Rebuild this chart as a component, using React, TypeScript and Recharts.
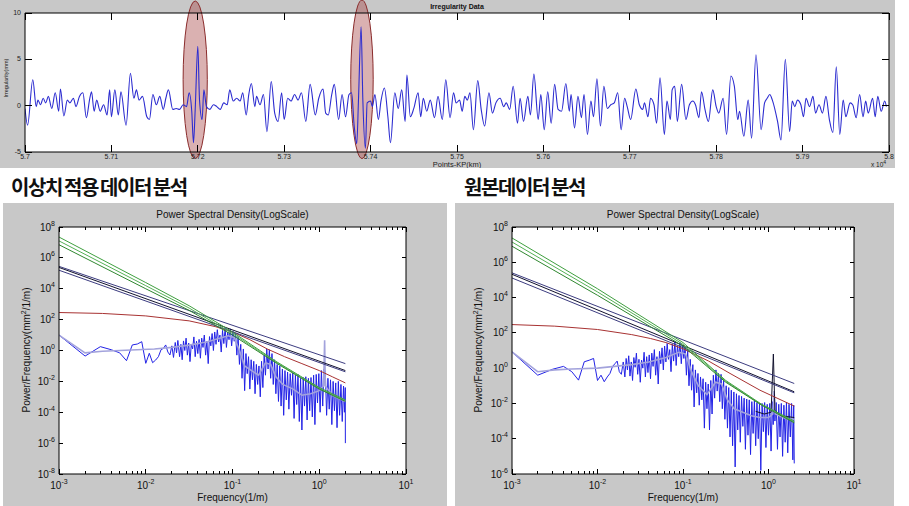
import React from 'react';
import { LineChart, Line, XAxis, YAxis, ReferenceArea } from 'recharts';

const FONT = '"Liberation Sans", Arial, Helvetica, sans-serif';
const KFONT = '"Noto Sans CJK KR", "Noto Sans", sans-serif';
const GRAY = '#c8c8c8';

// ---------- Top chart: irregularity trace ----------
const irregularityTrace: [number, number][] = [
  [57000,-0.3],[57003,-2.1],[57009,2.8],[57013,-0.1],[57015,0.6],[57018,0.1],[57021,0.8],[57024,0.3],[57027,1.0],[57031,-0.3],[57035,1.4],[57039,-0.6],[57041,1.8],[57045,-1.1],[57049,0.6],[57052,0.3],[57056,0.8],[57059,-0.1],[57063,1.0],[57067,1.4],[57071,-1.3],[57075,0.8],[57077,1.5],[57080,-0.6],[57083,0.6],[57087,-0.6],[57091,0.1],[57095,-1.0],[57098,1.7],[57100,-1.2],[57104,1.7],[57108,-1.0],[57111,1.5],[57117,-2.1],[57122,3.5],[57126,0.8],[57129,1.7],[57132,0.6],[57136,1.0],[57141,-1.2],[57144,-1.5],[57148,1.2],[57152,0.1],[57156,1.0],[57160,-0.4],[57163,0.8],[57166,1.7],[57171,-0.4],[57175,-0.3],[57179,-0.4],[57183,0.1],[57187,-0.1],[57190,1.4],[57193,-0.6],[57195,-4.0],[57197,-0.4],[57200,6.4],[57202,0.6],[57205,-1.5],[57207,1.7],[57210,-0.1],[57214,-0.4],[57218,0.1],[57222,-0.1],[57226,-0.4],[57230,0.3],[57234,0.1],[57237,1.7],[57241,0.5],[57245,0.8],[57249,0.5],
  [57252,1.4],[57256,-1.0],[57259,1.2],[57262,2.4],[57266,-0.1],[57268,1.0],[57272,0.1],[57276,1.2],[57280,-2.8],[57285,2.6],[57289,-0.8],[57293,-1.7],[57297,1.4],[57300,-1.5],[57304,0.8],[57308,0.5],[57312,1.2],[57316,0.6],[57320,1.4],[57325,-1.7],[57330,2.3],[57336,-1.0],[57340,0.8],[57345,1.8],[57348,-0.8],[57351,-1.0],[57355,1.2],[57358,2.3],[57363,-1.5],[57367,1.2],[57371,-1.2],[57375,1.2],[57378,1.4],[57381,-2.2],[57384,-4.1],[57386,0.7],[57389,8.5],[57391,0.7],[57394,-4.6],[57396,0.3],[57400,0.5],[57402,-0.1],[57405,1.2],[57409,-1.5],[57412,0.5],[57416,1.9],[57420,-1.2],[57423,-4.0],[57428,1.4],[57432,-0.3],[57436,1.7],[57440,-1.7],[57442,3.3],[57446,-1.2],[57450,-0.3],[57455,1.4],[57458,-1.2],[57461,0.8],[57465,-0.6],[57469,0.6],[57474,-1.3],[57478,1.0],[57483,-1.5],[57487,2.8],[57492,-1.3],[57496,1.4],
  [57499,0.3],[57503,0.6],[57506,-0.6],[57509,1.0],[57512,0.6],[57515,1.4],[57519,-2.6],[57524,2.7],[57528,-0.4],[57532,-2.2],[57537,1.4],[57541,-0.8],[57545,0.3],[57550,0.8],[57554,-0.1],[57557,0.3],[57561,-0.4],[57565,2.1],[57570,-1.9],[57573,0.8],[57577,-1.7],[57582,1.0],[57585,-1.0],[57589,3.4],[57594,-1.5],[57597,1.2],[57601,-2.6],[57605,1.5],[57609,-1.9],[57613,2.3],[57617,-0.4],[57621,-0.6],[57626,2.4],[57630,-0.6],[57632,1.2],[57636,-2.4],[57640,1.0],[57644,-1.3],[57647,1.2],[57651,-3.1],[57655,0.5],[57658,-1.2],[57662,2.9],[57666,-2.2],[57670,2.1],[57674,-0.3],[57678,0.1],[57682,0.3],[57686,1.4],[57690,-2.6],[57694,0.8],[57697,-0.1],[57701,-1.5],[57707,1.8],[57711,0.1],[57715,-0.4],[57717,0.3],[57721,-1.2],[57724,0.8],[57728,0.1],[57731,-1.9],[57735,3.0],[57740,-3.1],[57743,0.5],[57747,-1.5],
  [57749,1.7],[57752,2.1],[57755,-1.7],[57760,2.3],[57765,-1.5],[57769,0.1],[57773,0.5],[57776,0.1],[57780,-1.3],[57783,1.5],[57787,-0.4],[57791,-1.7],[57796,1.7],[57800,-0.1],[57803,-0.8],[57808,0.8],[57812,-3.1],[57817,3.2],[57821,2.1],[57825,-1.5],[57827,-0.6],[57832,-3.3],[57837,0.6],[57841,-3.5],[57846,5.5],[57852,-2.6],[57856,0.3],[57859,0.8],[57862,1.2],[57865,0.6],[57871,-1.7],[57875,-3.7],[57880,5.0],[57885,-2.8],[57888,0.5],[57891,-0.1],[57894,0.6],[57898,0.1],[57901,-1.2],[57904,0.8],[57908,-0.1],[57912,1.0],[57915,-0.8],[57919,0.1],[57923,-0.8],[57927,1.0],[57931,-1.5],[57935,-2.9],[57939,4.2],[57943,-3.1],[57947,0.6],[57950,-1.2],[57955,0.3],[57958,0.1],[57962,-1.3],[57966,1.2],[57970,-1.2],[57973,0.5],[57976,-0.8],[57981,0.8],[57984,-1.2],[57987,1.0],[57991,-0.6],[57995,0.5],[57997,-0.1],
];
const kpTicks = [57000, 57100, 57200, 57300, 57400, 57500, 57600, 57700, 57800, 57900, 58000];
const kpTickLabels = ['5.7', '5.71', '5.72', '5.73', '5.74', '5.75', '5.76', '5.77', '5.78', '5.79', '5.8'];
const irrTicks = [-5, 0, 5, 10];
const outlierZones = [
  { from: 57183, to: 57211, low: -5.7, high: 11.3 },
  { from: 57377, to: 57403, low: -5.7, high: 11.4 },
];

// ---------- PSD charts (log10 frequency, log10 power) ----------
const freqDecades = [-3, -2, -1, 0, 1];
const minorSteps = [2, 3, 4, 5, 6, 7, 8, 9];
const leftPowerTicks = [-8, -6, -4, -2, 0, 2, 4, 6, 8];
const rightPowerTicks = [-6, -4, -2, 0, 2, 4, 6, 8];

const leftPsd: [number, number][] = [
  [-3.000,1.00],[-2.699,-0.36],[-2.523,0.25],[-2.398,0.05],[-2.301,-0.15],[-2.222,-0.66],[-2.155,0.36],[-2.097,0.42],[-2.046,0.57],[-2.000,-0.83],[-1.959,-0.18],[-1.921,-0.79],[-1.886,-0.62],[-1.854,-0.40],[-1.824,0.05],[-1.796,0.14],[-1.770,0.36],[-1.745,-0.10],[-1.721,-0.29],[-1.699,0.30],
  [-1.68,-0.45],[-1.66,0.52],[-1.645,-0.15],[-1.63,0.65],[-1.61,-0.40],[-1.595,0.40],[-1.58,-0.60],[-1.565,0.62],[-1.55,0.00],[-1.535,0.80],[-1.52,-0.30],[-1.505,0.48],[-1.49,-0.72],[-1.475,0.40],[-1.46,0.10],[-1.445,0.88],[-1.43,-0.40],[-1.415,0.60],[-1.40,-0.20],[-1.385,0.72],[-1.37,-0.50],[-1.355,0.80],[-1.34,0.20],[-1.325,1.00],[-1.31,-0.30],[-1.295,0.60],[-1.28,-0.85],[-1.265,0.90],[-1.25,0.30],[-1.235,1.10],[-1.22,0.00],[-1.205,1.20],[-1.19,0.40],[-1.175,1.35],[-1.16,0.55],[-1.145,1.00],[-1.13,-0.10],[-1.115,1.30],[-1.10,0.45],[-1.085,1.45],[-1.07,0.20],[-1.055,1.20],[-1.04,0.70],[-1.025,1.40],[-1.01,0.30],[-0.995,1.25],[-0.98,0.60],[-0.965,1.10],[-0.95,-0.30],[-0.935,0.90],[-0.92,-0.90],[-0.905,0.40],[-0.89,-1.80],[-0.875,0.10],[-0.86,-2.60],[-0.845,-0.20],[-0.83,-1.50],[-0.815,-0.40],[-0.80,-2.50],[-0.785,-0.60],[-0.77,-1.90],[-0.755,-0.70],[-0.74,-2.80],[-0.725,-0.90],[-0.71,-2.20],[-0.695,-1.00],[-0.68,-3.00],[-0.665,-0.70],[-0.65,-2.40],[-0.635,-0.30],[-0.62,-1.60],[-0.605,0.10],[-0.59,-1.20],[-0.575,0.05],[-0.56,-1.80],[-0.545,-0.20],[-0.53,-2.20],[-0.515,-0.60],[-0.50,-2.80],[-0.485,-0.90],[-0.47,-3.30],[-0.455,-1.00],[-0.44,-3.60],[-0.425,-1.20],[-0.41,-4.20],[-0.395,-1.30],[-0.38,-3.20],[-0.365,-1.40],[-0.35,-3.80],[-0.335,-1.50],[-0.32,-2.90],[-0.305,-1.45],[-0.29,-4.40],[-0.275,-1.60],[-0.26,-3.50],[-0.245,-1.55],[-0.23,-4.60],[-0.215,-1.80],[-0.20,-5.15],[-0.185,-1.75],[-0.17,-3.60],[-0.155,-1.70],[-0.14,-4.50],[-0.125,-1.80],[-0.11,-3.90],[-0.095,-1.75],[-0.08,-4.30],[-0.065,-1.60],[-0.05,-4.80],[-0.035,-1.55],[-0.02,-3.40],[-0.005,-1.50],[0.01,-4.00],[0.025,-1.30],[0.04,-3.60],[0.055,-1.20],[0.07,-1.40],[0.085,-4.20],[0.10,-1.80],[0.115,-3.80],[0.13,-1.90],[0.145,-4.80],[0.16,-2.00],[0.175,-3.90],[0.19,-2.10],[0.205,-5.00],[0.22,-2.00],[0.235,-4.20],[0.25,-2.20],[0.265,-4.60],[0.28,-2.30],[0.29,-4.00],[0.30,-2.40],[0.301,-6.00],
];
const leftPsdSmooth: [number, number][] = [
  [-3,1.0],[-2.7,-0.15],[-2.5,-0.05],[-2.3,0.0],[-2.1,0.05],[-1.9,0.1],[-1.7,0.2],[-1.5,0.35],[-1.3,0.55],[-1.15,0.8],[-1.05,0.95],[-0.98,0.85],[-0.92,0.0],[-0.86,-1.0],[-0.78,-1.3],[-0.7,-1.6],[-0.62,-0.8],[-0.56,-0.9],[-0.5,-1.7],[-0.42,-2.2],[-0.3,-2.5],[-0.2,-2.9],[-0.1,-2.8],[0.0,-2.6],[0.05,-2.3],[0.062,0.67],[0.07,-2.3],[0.15,-2.9],[0.301,-3.3],
];
const leftRed: [number, number][] = [
  [-3,2.46],[-2.5,2.4],[-2,2.24],[-1.5,1.92],[-1.2,1.55],[-1,1.2],[-0.8,0.7],[-0.6,0.1],[-0.4,-0.4],[-0.2,-0.85],[0,-1.3],[0.15,-1.7],[0.301,-2.1],
];
const leftNavyA: [number, number][] = [[-3,5.45],[0.301,-0.85]];
const leftBlack: [number, number][] = [[-3,5.38],[0.301,-1.3]];
const leftNavyB: [number, number][] = [[-3,5.2],[0.301,-1.38]];
const leftGreenA: [number, number][] = [[-3,7.35],[-2,4.4],[-1.5,2.9],[-1,1.2],[-0.5,-0.7],[0,-2.4],[0.301,-3.2]];
const leftGreenB: [number, number][] = [[-3,7.1],[-2,4.2],[-1.5,2.75],[-1,1.1],[-0.5,-0.75],[0,-2.45],[0.301,-3.25]];
const leftGreenC: [number, number][] = [[-3,6.85],[-2,4.0],[-1.5,2.6],[-1,1.0],[-0.5,-0.8],[0,-2.5],[0.301,-3.3]];

const rightPsd: [number, number][] = [
  [-3.000,0.92],[-2.699,-0.40],[-2.523,-0.06],[-2.398,0.10],[-2.301,-0.20],[-2.222,-0.68],[-2.155,0.36],[-2.097,0.45],[-2.046,0.55],[-2.000,-0.70],[-1.959,-0.40],[-1.921,-0.77],[-1.886,-0.50],[-1.854,-0.30],[-1.824,0.10],[-1.796,0.25],[-1.770,0.40],[-1.745,-0.20],[-1.721,-0.35],[-1.699,0.35],
  [-1.68,-0.50],[-1.665,0.55],[-1.65,-0.10],[-1.635,0.70],[-1.62,-0.45],[-1.605,0.35],[-1.59,-0.70],[-1.575,0.60],[-1.56,0.05],[-1.545,0.85],[-1.53,-0.35],[-1.515,0.50],[-1.50,-0.80],[-1.485,0.45],[-1.47,0.00],[-1.455,0.90],[-1.44,-0.50],[-1.425,0.65],[-1.41,-0.25],[-1.395,0.75],[-1.38,-0.60],[-1.365,0.85],[-1.35,0.10],[-1.335,1.05],[-1.32,-0.40],[-1.305,0.65],[-1.29,-0.90],[-1.275,0.95],[-1.26,0.25],[-1.245,1.15],[-1.23,-0.10],[-1.215,1.25],[-1.20,0.35],[-1.185,1.40],[-1.17,0.50],[-1.155,1.05],[-1.14,-0.20],[-1.125,1.35],[-1.11,0.40],[-1.095,1.50],[-1.08,0.15],[-1.065,1.25],[-1.05,0.65],[-1.035,1.45],[-1.02,0.25],[-1.005,1.30],[-0.99,0.55],[-0.975,1.20],[-0.96,-0.40],[-0.945,1.00],[-0.93,-1.00],[-0.915,0.50],[-0.90,-1.25],[-0.885,0.20],[-0.87,-2.20],[-0.855,-0.10],[-0.84,-1.40],[-0.825,-0.30],[-0.81,-2.10],[-0.795,-0.50],[-0.78,-1.80],[-0.765,-0.60],[-0.75,-3.40],[-0.735,-0.80],[-0.72,-2.30],[-0.705,-0.90],[-0.69,-3.50],[-0.675,-0.70],[-0.66,-2.60],[-0.645,-0.40],[-0.63,-1.70],[-0.615,-0.10],[-0.60,-1.30],[-0.585,-0.30],[-0.57,-1.90],[-0.555,-0.35],[-0.54,-2.30],[-0.525,-0.70],[-0.51,-2.90],[-0.495,-1.00],[-0.48,-3.40],[-0.465,-1.10],[-0.45,-3.90],[-0.435,-1.25],[-0.42,-4.40],[-0.405,-1.35],[-0.39,-5.60],[-0.375,-1.45],[-0.36,-3.50],[-0.345,-1.55],[-0.33,-4.20],[-0.315,-1.60],[-0.30,-3.30],[-0.285,-1.70],[-0.27,-4.60],[-0.255,-1.75],[-0.24,-3.80],[-0.225,-1.80],[-0.21,-4.90],[-0.195,-1.90],[-0.18,-3.70],[-0.165,-1.85],[-0.15,-4.40],[-0.135,-1.95],[-0.12,-4.00],[-0.105,-2.00],[-0.09,-5.80],[-0.075,-2.00],[-0.06,-3.60],[-0.045,-1.95],[-0.03,-4.50],[-0.015,-2.05],[0.00,-3.80],[0.015,-2.00],[0.03,-4.70],[0.045,-1.90],[0.055,-3.20],[0.065,-1.60],[0.075,-3.00],[0.09,-1.95],[0.105,-4.60],[0.12,-2.05],[0.135,-3.90],[0.15,-2.00],[0.165,-5.00],[0.18,-2.10],[0.195,-4.20],[0.21,-1.95],[0.225,-4.80],[0.24,-2.05],[0.255,-3.90],[0.27,-2.00],[0.285,-5.20],[0.295,-2.10],[0.301,-5.40],
];
const rightPsdSmooth: [number, number][] = [
  [-3,0.92],[-2.7,-0.2],[-2.5,-0.1],[-2.3,-0.05],[-2.0,0.0],[-1.8,0.1],[-1.6,0.2],[-1.4,0.35],[-1.2,0.6],[-1.05,0.9],[-0.97,0.8],[-0.9,-0.2],[-0.82,-1.0],[-0.72,-1.5],[-0.62,-0.8],[-0.55,-0.9],[-0.48,-1.8],[-0.4,-2.3],[-0.3,-2.5],[-0.2,-2.7],[-0.1,-2.8],[0.0,-2.8],[0.05,-2.6],[0.065,-1.3],[0.08,-2.6],[0.2,-2.85],[0.301,-2.9],
];
const rightBlack: [number, number][] = [
  [-0.15,-2.45],[-0.05,-2.6],[0.03,-2.5],[0.057,0.8],[0.075,-2.4],[0.15,-2.7],[0.301,-2.8],
];
const rightRed: [number, number][] = [
  [-3,2.47],[-2.5,2.38],[-2,2.19],[-1.6,1.9],[-1.38,1.68],[-1.2,1.45],[-1,1.1],[-0.7,0.4],[-0.45,-0.3],[-0.1,-1.25],[0.1,-1.7],[0.301,-2.15],
];
const rightNavyA: [number, number][] = [[-3,5.4],[0.301,-0.87]];
const rightBlack2: [number, number][] = [[-3,5.32],[0.301,-1.34]];
const rightNavyB: [number, number][] = [[-3,5.11],[0.301,-1.4]];
const rightGreenA: [number, number][] = [[-3,7.38],[-2,4.5],[-1,1.45],[-0.5,-0.7],[-0.08,-2.05],[0.301,-3.0]];
const rightGreenB: [number, number][] = [[-3,7.15],[-2,4.32],[-1,1.35],[-0.5,-0.75],[-0.08,-2.08],[0.301,-3.05]];
const rightGreenC: [number, number][] = [[-3,6.91],[-2,4.13],[-1,1.25],[-0.5,-0.8],[-0.08,-2.1],[0.301,-3.1]];

// ---------- helpers ----------
const pts = (arr: [number, number][]) => arr.map(([x, y]) => ({ x, y }));
const isMajor = (v: number) => Math.abs(v - Math.round(v)) < 1e-9;
const freqTicks = [
  ...freqDecades,
  ...freqDecades.slice(0, -1).flatMap((d) => minorSteps.map((m) => d + Math.log10(m))),
].sort((a, b) => a - b);

const INK = '#000';

// top chart ticks
const KpBottomTick = (p: any) => {
  const { x, y, payload } = p;
  const i = kpTicks.indexOf(payload.value);
  return (
    <g>
      <line x1={x} y1={y} x2={x} y2={y - 7} stroke={INK} shapeRendering="crispEdges" />
      <text x={x} y={y + 6.5} textAnchor="middle" fontFamily={FONT} fontSize={7} fill="#222">{kpTickLabels[i]}</text>
    </g>
  );
};
const KpTopTick = (p: any) => (
  <line x1={p.x} y1={p.y} x2={p.x} y2={p.y + 7} stroke={INK} shapeRendering="crispEdges" />
);
const IrrLeftTick = (p: any) => (
  <g>
    <line x1={p.x} y1={p.y} x2={p.x + 7} y2={p.y} stroke={INK} shapeRendering="crispEdges" />
    <text x={p.x - 4} y={p.y + 2} textAnchor="end" fontFamily={FONT} fontSize={7} fill="#222">{p.payload.value}</text>
  </g>
);
const IrrRightTick = (p: any) => (
  <line x1={p.x} y1={p.y} x2={p.x - 7} y2={p.y} stroke={INK} shapeRendering="crispEdges" />
);

// psd ticks
const FreqBottomTick = (p: any) => {
  const v = p.payload.value;
  const major = isMajor(v);
  return (
    <g>
      <line x1={p.x} y1={p.y} x2={p.x} y2={p.y - (major ? 5 : 3)} stroke={INK} shapeRendering="crispEdges" />
      {major && (
        <text x={p.x} y={p.y + 15} textAnchor="middle" fontFamily={FONT} fontSize={10} fill="#111">
          10<tspan dy={-5} fontSize={7}>{Math.round(v)}</tspan>
        </text>
      )}
    </g>
  );
};
const FreqTopTick = (p: any) => {
  const major = isMajor(p.payload.value);
  return <line x1={p.x} y1={p.y} x2={p.x} y2={p.y + (major ? 5 : 3)} stroke={INK} shapeRendering="crispEdges" />;
};
const PowerLeftTick = (p: any) => (
  <g>
    <line x1={p.x} y1={p.y} x2={p.x + 4} y2={p.y} stroke={INK} shapeRendering="crispEdges" />
    <text x={p.x - 4} y={p.y + 3.5} textAnchor="end" fontFamily={FONT} fontSize={10} fill="#111">
      10<tspan dy={-5} fontSize={7}>{p.payload.value}</tspan>
    </text>
  </g>
);
const PowerRightTick = (p: any) => (
  <line x1={p.x} y1={p.y} x2={p.x - 4} y2={p.y} stroke={INK} shapeRendering="crispEdges" />
);

const EllipseShape = (p: any) => (
  <ellipse
    cx={p.x + p.width / 2}
    cy={p.y + p.height / 2}
    rx={Math.abs(p.width) / 2}
    ry={Math.abs(p.height) / 2}
    fill="#a84646"
    fillOpacity={0.42}
    stroke="#8a2c2c"
    strokeWidth={1}
  />
);

const axisLine = { stroke: INK, strokeWidth: 1 };

function TopChart() {
  const W = 895, H = 168, L = 25, R = 6, T = 13, B = 16;
  return (
    <div style={{ position: 'absolute', left: 0, top: 0, width: W, height: H, background: GRAY }}>
      <div style={{ position: 'absolute', left: L, top: T, width: W - L - R, height: H - T - B, background: '#fff' }} />
      <div style={{ position: 'absolute', left: 0, top: 0 }}>
        <LineChart width={W} height={H} margin={{ top: 0, right: 0, bottom: 0, left: 0 }}>
          <XAxis xAxisId="b" type="number" dataKey="x" domain={[57000, 58000]} ticks={kpTicks} interval={0}
            height={B} tickSize={0} tickMargin={0} tickLine={false} axisLine={axisLine} tick={KpBottomTick} allowDataOverflow />
          <XAxis xAxisId="t" orientation="top" type="number" dataKey="x" domain={[57000, 58000]} ticks={kpTicks} interval={0}
            height={T} tickSize={0} tickMargin={0} tickLine={false} axisLine={axisLine} tick={KpTopTick} allowDataOverflow />
          <YAxis yAxisId="l" type="number" dataKey="y" domain={[-5, 10]} ticks={irrTicks} interval={0}
            width={L} tickSize={0} tickMargin={0} tickLine={false} axisLine={axisLine} tick={IrrLeftTick} allowDataOverflow />
          <YAxis yAxisId="r" orientation="right" type="number" dataKey="y" domain={[-5, 10]} ticks={irrTicks} interval={0}
            width={R} tickSize={0} tickMargin={0} tickLine={false} axisLine={axisLine} tick={IrrRightTick} allowDataOverflow />
          <Line xAxisId="b" yAxisId="l" data={pts(irregularityTrace)} dataKey="y" type="monotone" stroke="#2c2cd0"
            strokeWidth={1.1} dot={false} activeDot={false} isAnimationActive={false} />
          {outlierZones.map((z, i) => (
            <ReferenceArea key={i} xAxisId="b" yAxisId="l" x1={z.from} x2={z.to} y1={z.low} y2={z.high}
              ifOverflow="visible" shape={EllipseShape} />
          ))}
        </LineChart>
      </div>
      <svg width={W} height={H} style={{ position: 'absolute', left: 0, top: 0, pointerEvents: 'none' }}>
        <text x={457} y={9} textAnchor="middle" fontFamily={FONT} fontSize={7} fontWeight="bold" fill="#111">Irregularity Data</text>
        <text x={457} y={167} textAnchor="middle" fontFamily={FONT} fontSize={7.5} fill="#222">Points-KP(km)</text>
        <text x={871} y={167} textAnchor="start" fontFamily={FONT} fontSize={6.5} fill="#222">
          x 10<tspan dy={-3} fontSize={5}>4</tspan>
        </text>
        <text transform="translate(8,78) rotate(-90)" textAnchor="middle" fontFamily={FONT} fontSize={5.5} fill="#222">Irregularity(mm)</text>
      </svg>
    </div>
  );
}

type Series = { data: [number, number][]; color: string; width?: number };

function PsdPanel({ left, width, axisLeft, axisRight, yMin, yTicks, series }: {
  left: number; width: number; axisLeft: number; axisRight: number; yMin: number; yTicks: number[]; series: Series[];
}) {
  const H = 303, T = 24, B = 32;
  const plotW = width - axisLeft - axisRight;
  const cx = axisLeft + plotW / 2;
  return (
    <div style={{ position: 'absolute', left, top: 203, width, height: H, background: GRAY }}>
      <div style={{ position: 'absolute', left: axisLeft, top: T, width: plotW, height: H - T - B, background: '#fff' }} />
      <div style={{ position: 'absolute', left: 0, top: 0 }}>
        <LineChart width={width} height={H} margin={{ top: 0, right: 0, bottom: 0, left: 0 }}>
          <XAxis xAxisId="b" type="number" dataKey="x" domain={[-3, 1]} ticks={freqTicks} interval={0}
            height={B} tickSize={0} tickMargin={0} tickLine={false} axisLine={axisLine} tick={FreqBottomTick} allowDataOverflow />
          <XAxis xAxisId="t" orientation="top" type="number" dataKey="x" domain={[-3, 1]} ticks={freqTicks} interval={0}
            height={T} tickSize={0} tickMargin={0} tickLine={false} axisLine={axisLine} tick={FreqTopTick} allowDataOverflow />
          <YAxis yAxisId="l" type="number" dataKey="y" domain={[yMin, 8]} ticks={yTicks} interval={0}
            width={axisLeft} tickSize={0} tickMargin={0} tickLine={false} axisLine={axisLine} tick={PowerLeftTick} allowDataOverflow />
          <YAxis yAxisId="r" orientation="right" type="number" dataKey="y" domain={[yMin, 8]} ticks={yTicks} interval={0}
            width={axisRight} tickSize={0} tickMargin={0} tickLine={false} axisLine={axisLine} tick={PowerRightTick} allowDataOverflow />
          {series.map((s, i) => (
            <Line key={i} xAxisId="b" yAxisId="l" data={pts(s.data)} dataKey="y" type="linear" stroke={s.color}
              strokeWidth={s.width ?? 1} dot={false} activeDot={false} isAnimationActive={false} />
          ))}
        </LineChart>
      </div>
      <svg width={width} height={H} style={{ position: 'absolute', left: 0, top: 0, pointerEvents: 'none' }}>
        <text x={cx} y={15} textAnchor="middle" fontFamily={FONT} fontSize={10} fill="#111">Power Spectral Density(LogScale)</text>
        <text x={cx} y={298} textAnchor="middle" fontFamily={FONT} fontSize={10} fill="#111">Frequency(1/m)</text>
        <text transform="translate(27,147) rotate(-90)" textAnchor="middle" fontFamily={FONT} fontSize={10} fill="#111">
          Power/Frequency(mm<tspan dy={-4} fontSize={7}>2</tspan><tspan dy={4}>/1/m)</tspan>
        </text>
      </svg>
    </div>
  );
}

const BLUE = '#2222e6';
const LAV = '#a3a3dc';
const NAVY = '#3c3c80';
const DARK = '#12122e';
const RED = '#a83232';
const G1 = '#3f9f3f';
const G2 = '#55b055';
const G3 = '#2f872f';

const leftSeries: Series[] = [
  { data: leftPsd, color: BLUE },
  { data: leftPsdSmooth, color: LAV, width: 1.6 },
  { data: leftRed, color: RED },
  { data: leftNavyA, color: NAVY },
  { data: leftBlack, color: DARK },
  { data: leftNavyB, color: NAVY },
  { data: leftGreenA, color: G1 },
  { data: leftGreenB, color: G2 },
  { data: leftGreenC, color: G3 },
];
const rightSeries: Series[] = [
  { data: rightPsd, color: BLUE },
  { data: rightPsdSmooth, color: LAV, width: 1.6 },
  { data: rightBlack, color: DARK },
  { data: rightRed, color: RED },
  { data: rightNavyA, color: NAVY },
  { data: rightBlack2, color: DARK },
  { data: rightNavyB, color: NAVY },
  { data: rightGreenA, color: G1 },
  { data: rightGreenB, color: G2 },
  { data: rightGreenC, color: G3 },
];

const headingStyle: React.CSSProperties = {
  position: 'absolute', top: 176, fontFamily: KFONT, fontWeight: 700, fontSize: 20, lineHeight: '22px',
  color: '#111', whiteSpace: 'nowrap', letterSpacing: '-1.4px', wordSpacing: '-1.2px',
};

export default function App() {
  return (
    <div style={{ position: 'absolute', left: 0, top: 0, width: 909, height: 506, background: '#fff', overflow: 'hidden' }}>
      <TopChart />
      <div style={{ ...headingStyle, left: 11 }}>이상치 적용 데이터 분석</div>
      <div style={{ ...headingStyle, left: 464 }}>원본데이터 분석</div>
      <PsdPanel left={3} width={444} axisLeft={56} axisRight={41} yMin={-8} yTicks={leftPowerTicks} series={leftSeries} />
      <PsdPanel left={455} width={439} axisLeft={57} axisRight={40} yMin={-6} yTicks={rightPowerTicks} series={rightSeries} />
    </div>
  );
}
